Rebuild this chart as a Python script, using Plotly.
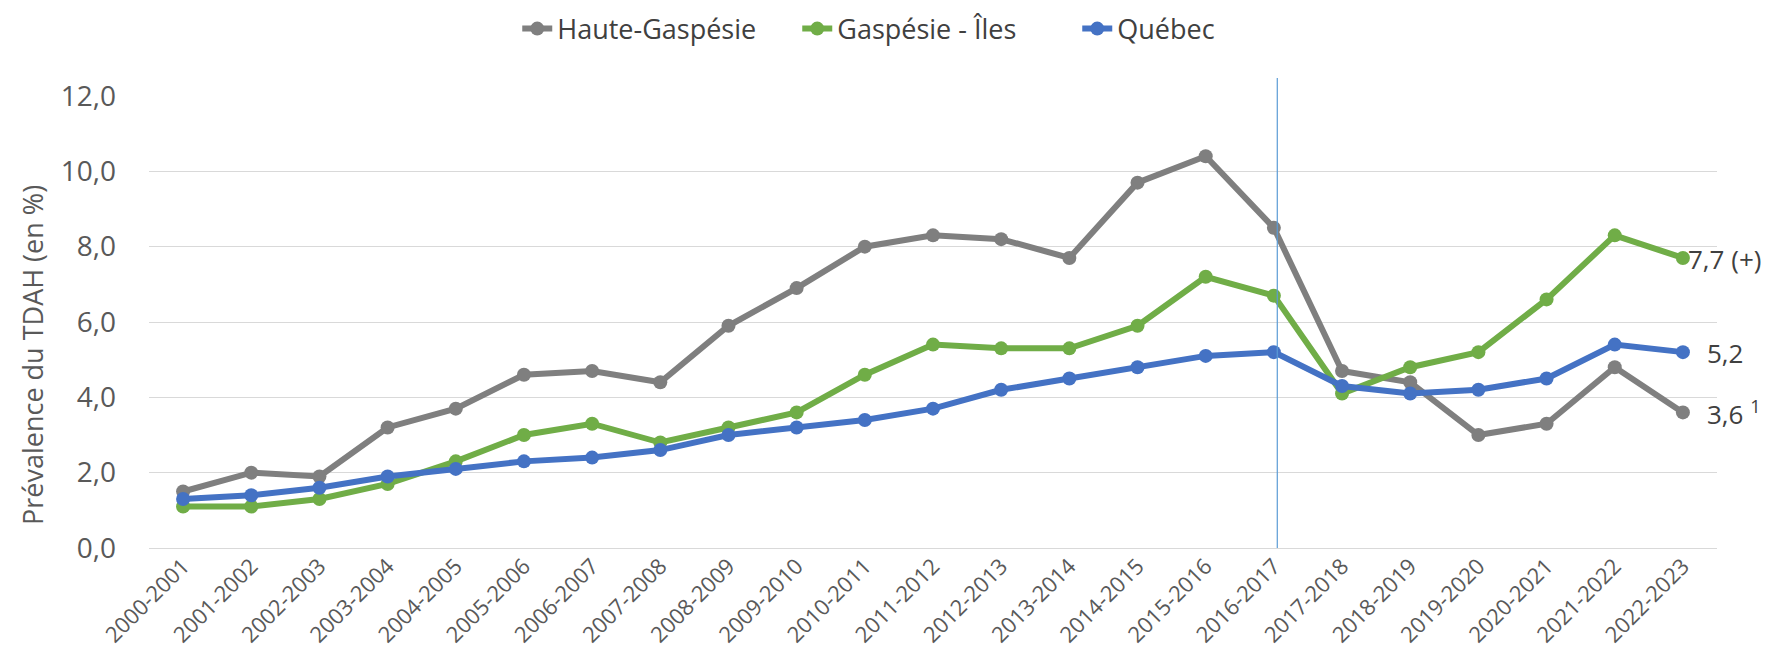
import plotly.graph_objects as go

periods = ["2000-2001", "2001-2002", "2002-2003", "2003-2004", "2004-2005", "2005-2006",
           "2006-2007", "2007-2008", "2008-2009", "2009-2010", "2010-2011", "2011-2012",
           "2012-2013", "2013-2014", "2014-2015", "2015-2016", "2016-2017", "2017-2018",
           "2018-2019", "2019-2020", "2020-2021", "2021-2022", "2022-2023"]

haute_gaspesie = [1.5, 2.0, 1.9, 3.2, 3.7, 4.6, 4.7, 4.4, 5.9, 6.9, 8.0, 8.3,
                  8.2, 7.7, 9.7, 10.4, 8.5, 4.7, 4.4, 3.0, 3.3, 4.8, 3.6]
gaspesie_iles = [1.1, 1.1, 1.3, 1.7, 2.3, 3.0, 3.3, 2.8, 3.2, 3.6, 4.6, 5.4,
                 5.3, 5.3, 5.9, 7.2, 6.7, 4.1, 4.8, 5.2, 6.6, 8.3, 7.7]
quebec = [1.3, 1.4, 1.6, 1.9, 2.1, 2.3, 2.4, 2.6, 3.0, 3.2, 3.4, 3.7,
          4.2, 4.5, 4.8, 5.1, 5.2, 4.3, 4.1, 4.2, 4.5, 5.4, 5.2]

series_names = ["Haute-Gaspésie", "Gaspésie - Îles", "Québec"]
series_colors = ["#7F7F7F", "#70AD47", "#4472C4"]
end_suffix = [" <sup>1</sup>", " (+)", ""]
y_title = "Prévalence du TDAH (en %)"
break_index = 16.05  # vertical marker after 2016-2017

FONT = "Open Sans"
TXT = "#595959"

fig = go.Figure()
for name, vals, col in zip(series_names, [haute_gaspesie, gaspesie_iles, quebec], series_colors):
    fig.add_trace(go.Scatter(
        x=periods, y=vals, name=name, mode="lines+markers",
        line=dict(color=col, width=6),
        marker=dict(color=col, size=14),
    ))

for vals, col, suf, shift in zip([haute_gaspesie, gaspesie_iles, quebec], series_colors,
                                 end_suffix, [22, 3, 22]):
    label = f"{vals[-1]:.1f}".replace(".", ",") + suf
    fig.add_annotation(x=periods[-1], y=vals[-1], text=label, showarrow=False,
                       xanchor="left", yanchor="middle", xshift=shift, yshift=-1,
                       font=dict(family=FONT, size=26, color="#404040"))

# y-axis title (sits slightly below the axis centre in the reference)
fig.add_annotation(text=y_title, xref="paper", yref="paper", x=0, y=0.427,
                   xanchor="center", yanchor="middle", xshift=-116, textangle=-90,
                   showarrow=False, font=dict(family=FONT, size=27, color=TXT))

fig.add_shape(type="line", xref="x", yref="paper", x0=break_index, x1=break_index,
              y0=0, y1=1.04, line=dict(color="#5B9BD5", width=1.2))

fig.update_layout(
    width=1770, height=658,
    paper_bgcolor="white", plot_bgcolor="white",
    separators=", ",
    margin=dict(l=141, r=61, t=88, b=118, autoexpand=False),
    font=dict(family=FONT, color=TXT),
    showlegend=True,
    legend=dict(orientation="h", xref="container", x=0.525, xanchor="center",
                yref="container", y=0.968, yanchor="middle",
                font=dict(family=FONT, size=27, color="#404040"),
                entrywidth=235, entrywidthmode="pixels",
                tracegroupgap=0, bgcolor="rgba(0,0,0,0)"),
    xaxis=dict(type="category", range=[-0.5, 22.5], tickangle=-45,
               showgrid=False, showline=False, zeroline=False,
               ticks="", ticklabelstandoff=0,
               tickfont=dict(family=FONT, size=22, color=TXT)),
    yaxis=dict(range=[0, 12], dtick=2, tickformat=".1f",
               showgrid=True, gridcolor="#D9D9D9", gridwidth=1.3,
               zeroline=True, zerolinecolor="#D9D9D9", zerolinewidth=1.3,
               showline=False, ticks="", ticklabelstandoff=32,
               tickfont=dict(family=FONT, size=28, color=TXT)),
)

fig.write_html("out.html")
